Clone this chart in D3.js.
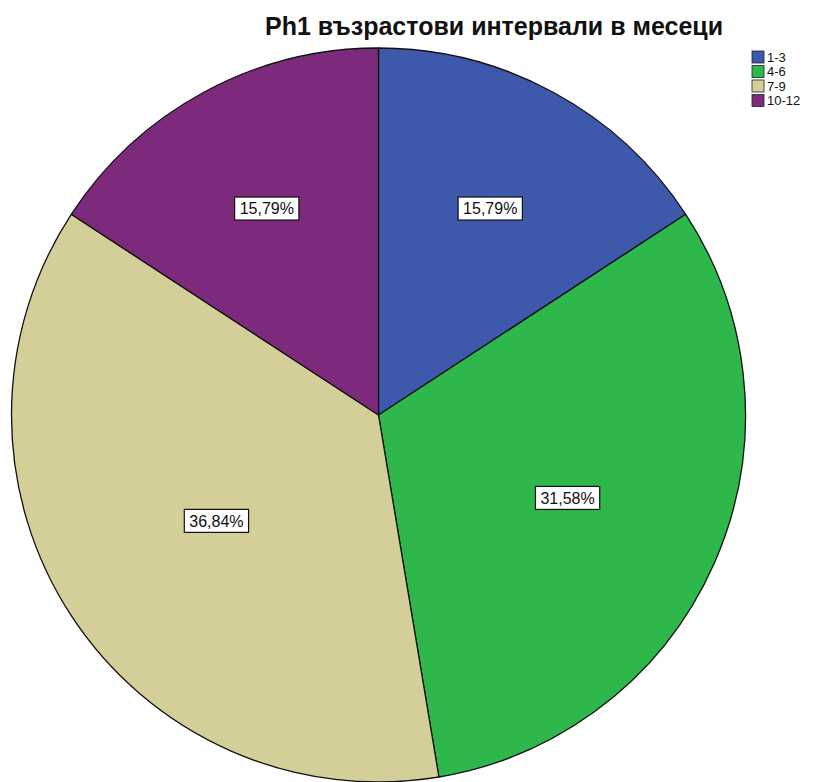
<!DOCTYPE html>
<html>
<head>
<meta charset="utf-8">
<script src="https://cdn.jsdelivr.net/npm/d3@7"></script>
<style>
  html, body { margin: 0; padding: 0; background: #fff; }
  svg { display: block; }
</style>
</head>
<body>
<svg id="chart" width="823" height="782"></svg>
<script>
// Age intervals (months) and their counts
const categories = ["1-3", "4-6", "7-9", "10-12"];
const counts = [3, 6, 7, 3];
const colors = ["#3E58AC", "#2EB84B", "#D4CF98", "#7D2A7D"];
const titleText = "Ph1 възрастови интервали в месеци";

const svg = d3.select("#chart");
const cx = 378.5, cy = 415, radius = 367;
const font = "Liberation Sans, Arial, sans-serif";

const total = d3.sum(counts);
const data = categories.map((c, i) => ({ cat: c, value: counts[i], color: colors[i] }));

const pie = d3.pie().value(d => d.value).sort(null);
const arc = d3.arc().innerRadius(0).outerRadius(radius);
const arcs = pie(data);

const g = svg.append("g").attr("transform", `translate(${cx},${cy})`);

g.selectAll("path.slice")
  .data(arcs)
  .enter().append("path")
  .attr("class", "slice")
  .attr("d", arc)
  .attr("fill", d => d.data.color)
  .attr("stroke", "#111")
  .attr("stroke-width", 1.3)
  .attr("stroke-linejoin", "round");

// Percent labels placed at the area centroid of each sector
const fmt = v => (v * 100).toFixed(2).replace(".", ",") + "%";
const labels = g.selectAll("g.lbl")
  .data(arcs)
  .enter().append("g")
  .attr("class", "lbl")
  .attr("transform", d => {
    const half = (d.endAngle - d.startAngle) / 2;
    const mid = (d.startAngle + d.endAngle) / 2;
    const dist = 2 * radius * Math.sin(half) / (3 * half);
    return `translate(${dist * Math.sin(mid)},${-dist * Math.cos(mid)})`;
  });

labels.each(function(d) {
  const sel = d3.select(this);
  const t = sel.append("text")
    .attr("text-anchor", "middle")
    .attr("dy", "0.36em")
    .attr("font-family", font)
    .attr("font-size", 16)
    .attr("fill", "#111")
    .text(fmt(d.data.value / total));
  const bb = t.node().getBBox();
  sel.insert("rect", "text")
    .attr("x", bb.x - 5)
    .attr("y", -11.5)
    .attr("width", bb.width + 10)
    .attr("height", 23)
    .attr("fill", "#fff")
    .attr("stroke", "#111")
    .attr("stroke-width", 1.2);
});

// Title
svg.append("text")
  .attr("x", 265)
  .attr("y", 35)
  .attr("text-anchor", "start")
  .attr("font-family", font)
  .attr("font-weight", "bold")
  .attr("font-size", 25)
  .attr("fill", "#111")
  .text(titleText);

// Legend
const legend = svg.append("g").attr("transform", "translate(752,51)");
const rowH = 14.5;
const items = legend.selectAll("g.item")
  .data(data)
  .enter().append("g")
  .attr("class", "item")
  .attr("transform", (d, i) => `translate(0,${i * rowH})`);
items.append("rect")
  .attr("width", 12).attr("height", 12)
  .attr("fill", d => d.color)
  .attr("stroke", "#222").attr("stroke-width", 0.8);
items.append("text")
  .attr("x", 15).attr("y", 10.5)
  .attr("font-family", font)
  .attr("font-size", 13)
  .attr("fill", "#111")
  .text(d => d.cat);
</script>
</body>
</html>
